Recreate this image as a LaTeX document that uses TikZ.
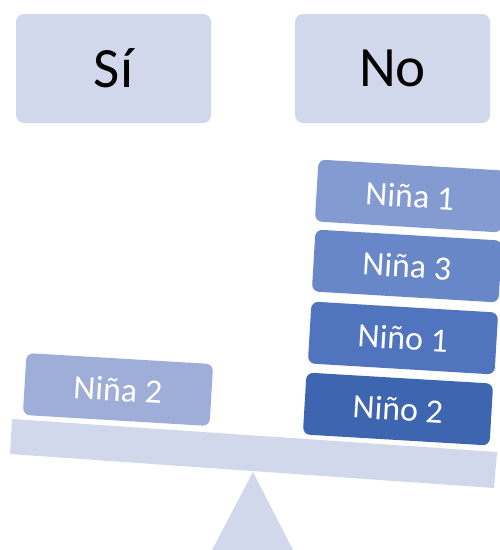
\documentclass[tikz,border=0pt]{standalone}
\usepackage{fontspec}
\setmainfont{Carlito}
\usepackage{xcolor}
\definecolor{palido}{RGB}{210,216,235}
\definecolor{azulA}{RGB}{158,174,216}
\definecolor{azulB}{RGB}{132,155,210}
\definecolor{azulC}{RGB}{104,135,200}
\definecolor{azulD}{RGB}{80,117,190}
\definecolor{azulE}{RGB}{62,101,175}
\tikzset{respuesta/.style={fill=palido,rounded corners=8pt,minimum width=195pt,minimum height=109pt,inner sep=0pt,font=\fontsize{57}{62}\selectfont}}
\tikzset{peso/.style={rounded corners=7pt,minimum width=187pt,minimum height=62pt,inner sep=0pt,text=white,rotate=-3.4,font=\fontsize{34}{38}\selectfont}}

\begin{document}
\begin{tikzpicture}[x=1pt,y=-1pt]
            \useasboundingbox (0,0) rectangle (500,550);
            % the two answers
            \node[respuesta] (si) at (113.5,68.5) {Sí};
            \node[respuesta] (no) at (392.5,68.5) {No};
            % the balance
            \fill[palido] (253,472) -- (294,552) -- (211,552) -- cycle;
            \fill[palido] (12,419) -- (497,452) -- (494,488) -- (10,454) -- cycle;
            % the weights
            \node[peso,fill=azulA] (nina2) at (118,389.5) {Niña 2};
            \node[peso,fill=azulE] (nino2) at (398,409) {Niño 2};
            \node[peso,fill=azulD] (nino1) at (403,338) {Niño 1};
            \node[peso,fill=azulC] (nina3) at (407,266) {Niña 3};
            \node[peso,fill=azulB] (nina1) at (410,196) {Niña 1};
        \end{tikzpicture}
\end{document}
